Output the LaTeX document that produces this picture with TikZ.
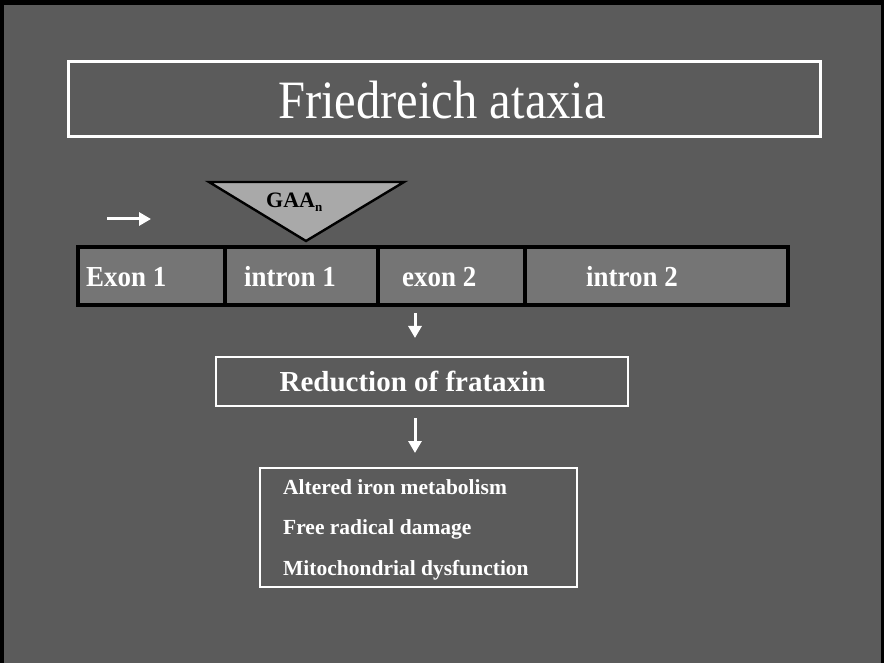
\documentclass[tikz,border=0pt]{standalone}
\usepackage{fontspec}
\setmainfont{Liberation Serif}
\newfontfamily\slidefont[FakeStretch=0.9]{Liberation Serif}
\newfontfamily\genefont[FakeStretch=0.93]{Liberation Serif}
\usetikzlibrary{arrows.meta,positioning}

\definecolor{slidebg}{HTML}{5B5B5B}
\definecolor{genegray}{HTML}{757575}
\definecolor{repeatgray}{HTML}{A9A9A9}

\tikzset{
  seg/.style={draw=black,line width=3.2pt,fill=genegray,minimum height=58pt,
    inner sep=0pt,outer sep=0pt,anchor=north west},
  seglabel/.style={text=white,font=\genefont\bfseries\fontsize{29pt}{32pt}\selectfont,
    anchor=base west,inner sep=0pt},
  wbox/.style={draw=white,line width=2pt,inner sep=0pt},
  effect/.style={text=white,font=\bfseries\fontsize{21.5pt}{24pt}\selectfont,
    anchor=base west,inner sep=0pt},
  flow/.style={draw=white,line width=3pt,-{Triangle[length=12pt,width=13pt]}},
}

\begin{document}
\begin{tikzpicture}[x=1pt,y=-1pt]
\useasboundingbox (0,0) rectangle (887,663);
% slide background and frame
\fill[white] (0,0) rectangle (887,663);
\fill[black] (0,0) rectangle (884,663);
\fill[slidebg] (4,5) rectangle (881,663);

% title
\node[wbox,line width=3pt,minimum width=752pt,minimum height=75pt] (title) at (444,99.5) {};
\node[text=white,font=\slidefont\fontsize{54pt}{60pt}\selectfont,anchor=base,inner sep=0pt]
  (titletext) at (442,118.5) {Friedreich ataxia};

% gene: exons and introns
\node[seg,minimum width=147pt] (ex1) at (78,247) {};
\node[seg,minimum width=153pt,right=0pt of ex1] (in1) {};
\node[seg,minimum width=147pt,right=0pt of in1] (ex2) {};
\node[seg,minimum width=263pt,right=0pt of ex2] (in2) {};
\node[seglabel] (ex1lab) at (86,287) {Exon 1};
\node[seglabel] (in1lab) at (244,287) {intron 1};
\node[seglabel] (ex2lab) at (402,287) {exon 2};
\node[seglabel] (in2lab) at (586,287) {intron 2};

% expanded repeat
\draw[fill=repeatgray,line width=2.4pt,line join=miter] (209,182) -- (404,182) -- (306,241) -- cycle;
\node[font=\bfseries\fontsize{22pt}{24pt}\selectfont,anchor=base west,inner sep=0pt]
  (gaa) at (266,208) {GAA\raisebox{-4pt}{\fontsize{13pt}{14pt}\selectfont n}};

% direction of transcription
\coordinate (tss) at (107,219);
\coordinate (tsse) at (151,219);
\draw[flow] (tss) -- (tsse);

% consequences
\node[wbox,minimum width=412pt,minimum height=49pt] (red) at (422,381.5) {};
\node[text=white,font=\bfseries\fontsize{29pt}{32pt}\selectfont,anchor=base,inner sep=0pt]
  (redtext) at (412.5,391) {Reduction of frataxin};
\node[wbox,minimum width=317pt,minimum height=119pt] (res) at (418.5,527.5) {};
\foreach \txt [count=\i] in {Altered iron metabolism,Free radical damage,Mitochondrial dysfunction}
  \node[effect] (eff\i) at (283,{494+40.5*(\i-1)}) {\txt};

\coordinate (spine) at (415,0);
\draw[flow] ([yshift=-8pt]ex2.south -| spine) -- ([yshift=18pt]red.north -| spine);
\draw[flow] ([yshift=-11pt]red.south -| spine) -- ([yshift=14pt]res.north -| spine);
\end{tikzpicture}
\end{document}
